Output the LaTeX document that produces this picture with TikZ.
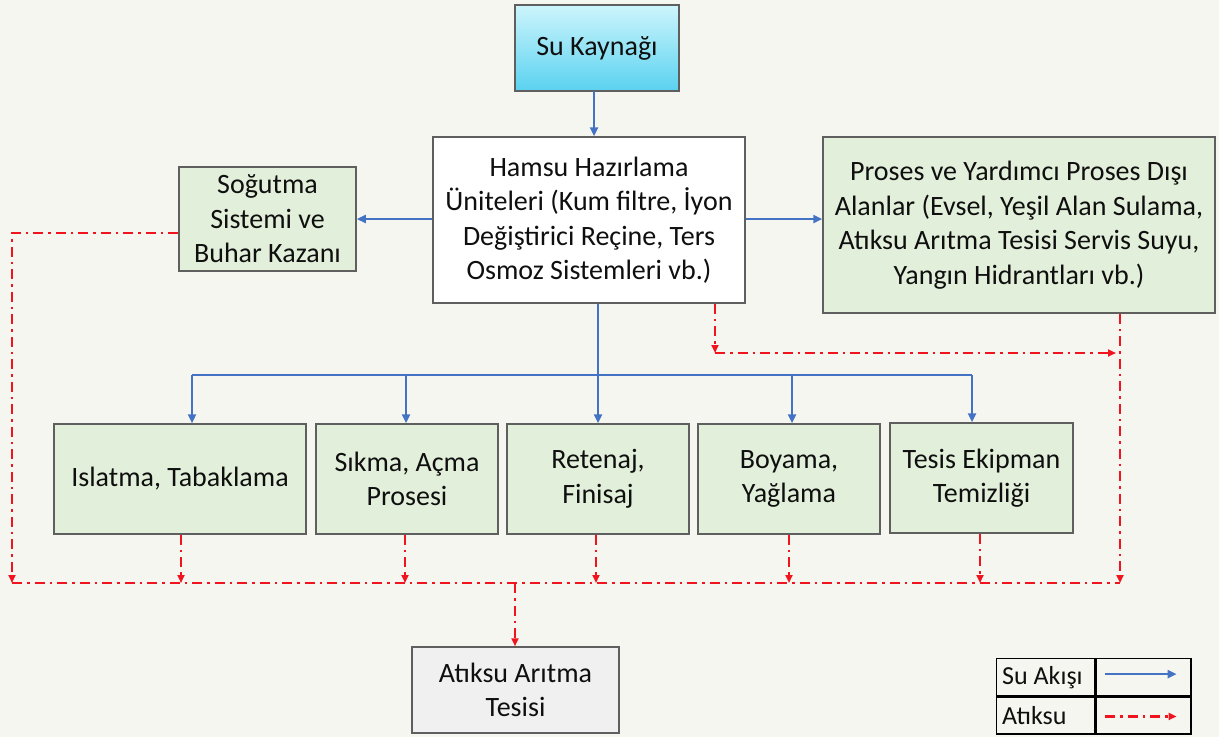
\documentclass[tikz,border=0pt]{standalone}
\usepackage{fontspec}
\setmainfont{Carlito}
\usetikzlibrary{arrows.meta,calc}
\definecolor{bgc}{RGB}{246,246,240}
\definecolor{boxgreen}{RGB}{226,239,218}
\definecolor{bordergray}{RGB}{95,95,95}
\definecolor{waterblue}{RGB}{68,114,196}
\definecolor{wastered}{RGB}{240,20,30}
\definecolor{graybox}{RGB}{240,240,240}
\definecolor{cyantop}{RGB}{205,245,252}
\definecolor{cyanbot}{RGB}{90,210,240}
\definecolor{txt}{RGB}{15,15,15}
\tikzset{
  box/.style={draw=bordergray, line width=1.5pt, fill=boxgreen, align=center, inner sep=0pt, text=txt, font=\fontsize{28}{34.5}\selectfont},
  water/.style={draw=waterblue, line width=2.8pt, -{Triangle[length=9pt,width=8pt]}},
  waterline/.style={draw=waterblue, line width=2.8pt},
  wasteline/.style={draw=wastered, line width=2pt, dash pattern=on 10pt off 5pt on 2.5pt off 5pt},
  waste/.style={wasteline, -{Triangle[length=8pt,width=7pt]}},
  legcell/.style={draw=black, line width=1.3pt, fill=bgc, minimum height=37pt, inner sep=0pt},
  legtext/.style={anchor=west, inner sep=0pt, text=txt, font=\fontsize{26}{30}\selectfont},
}
\begin{document}
\begin{tikzpicture}[x=1pt,y=-1pt]
\fill[bgc] (0,0) rectangle (1219,737);
\useasboundingbox (0,0) rectangle (1219,737);

\node[box, top color=cyantop, bottom color=cyanbot, minimum width=164pt, minimum height=86pt] (su) at (597,48) {Su Kaynağı};
\node[box, fill=white, minimum width=312pt, minimum height=166pt] (hamsu) at (589,220) {Hamsu Hazırlama\\Üniteleri (Kum filtre, İyon\\Değiştirici Reçine, Ters\\Osmoz Sistemleri vb.)};
\node[box, minimum width=177pt, minimum height=104pt] (sog) at (267.5,219) {Soğutma\\Sistemi ve\\Buhar Kazanı};
\node[box, minimum width=392pt, minimum height=176pt] (proses) at (1019,225) {Proses ve Yardımcı Proses Dışı\\Alanlar (Evsel, Yeşil Alan Sulama,\\Atıksu Arıtma Tesisi Servis Suyu,\\Yangın Hidrantları vb.)};

\node[box, minimum width=252pt, minimum height=110pt] (isl) at (180,479) {Islatma, Tabaklama};
\node[box, minimum width=182pt, minimum height=110pt] (sik) at (407,479) {Sıkma, Açma\\Prosesi};
\node[box, minimum width=182pt, minimum height=110pt] (ret) at (598,479) {Retenaj,\\Finisaj};
\node[box, minimum width=182pt, minimum height=110pt] (boy) at (789,479) {Boyama,\\Yağlama};
\node[box, minimum width=183pt, minimum height=110pt] (tes) at (981.5,478) {Tesis Ekipman\\Temizliği};

\node[box, fill=graybox, minimum width=207pt, minimum height=86pt] (ats) at (515.5,690) {Atıksu Arıtma\\Tesisi};

% water flow
\coordinate (suout) at (594,91);
\draw[water] (suout) -- (suout |- hamsu.north);
\coordinate (side) at (589,219);
\draw[water] (hamsu.west |- side) -- (sog.east |- side);
\draw[water] (hamsu.east |- side) -- (proses.west |- side);
\coordinate (busmid) at (598,375);
\coordinate (busL) at (192,375);
\coordinate (busR) at (972,375);
\coordinate (bus2) at (406,375);
\coordinate (bus4) at (792,375);
\draw[waterline] (busmid |- hamsu.south) -- (busmid);
\draw[waterline] (busL) -- (busR);
\draw[water] (busL) -- (busL |- isl.north);
\draw[water] (bus2) -- (bus2 |- sik.north);
\draw[water] (busmid) -- (busmid |- ret.north);
\draw[water] (bus4) -- (bus4 |- boy.north);
\draw[water] (busR) -- (busR |- tes.north);

% waste water
\coordinate (wL) at (12,583);
\coordinate (wR) at (1120,583);
\coordinate (sogout) at ($(sog.west)+(0,14)$);
\draw[waste] (sogout) -- (wL |- sogout) -- (wL);
\draw[wasteline] (wL) -- (wR);
\draw[waste] (wR |- proses.south) -- (wR);
\coordinate (d1) at (181,583);
\coordinate (d2) at (405,583);
\coordinate (d3) at (596,583);
\coordinate (d4) at (789,583);
\coordinate (d5) at (980,583);
\draw[waste] (d1 |- isl.south) -- (d1);
\draw[waste] (d2 |- sik.south) -- (d2);
\draw[waste] (d3 |- ret.south) -- (d3);
\draw[waste] (d4 |- boy.south) -- (d4);
\draw[waste] (d5 |- tes.south) -- (d5);
\coordinate (dA) at (515,583);
\draw[waste] (dA) -- (dA |- ats.north);
\coordinate (hw) at (715,353);
\draw[waste] (hw |- hamsu.south) -- (hw);
\draw[waste] (hw) -- (1116,353);

% legend
\node[legcell, minimum width=98pt, anchor=north west] (l1) at (996,658) {};
\node[legcell, minimum width=95pt, anchor=north west] (l2) at (l1.north east) {};
\node[legcell, minimum width=98pt, anchor=north west] (l3) at (l1.south west) {};
\node[legcell, minimum width=95pt, anchor=north west] (l4) at (l3.north east) {};
\node[legtext] (t1) at ($(l1.west)+(6,0)$) {Su Akışı};
\node[legtext] (t3) at ($(l3.west)+(6,0)$) {Atıksu};
\draw[water, line width=2.4pt] ($(l2.west)+(10,-3)$) -- ($(l2.east)+(-15,-3)$);
\draw[waste, line width=2.4pt] ($(l4.west)+(10,1)$) -- ($(l4.east)+(-15,1)$);
\end{tikzpicture}
\end{document}
